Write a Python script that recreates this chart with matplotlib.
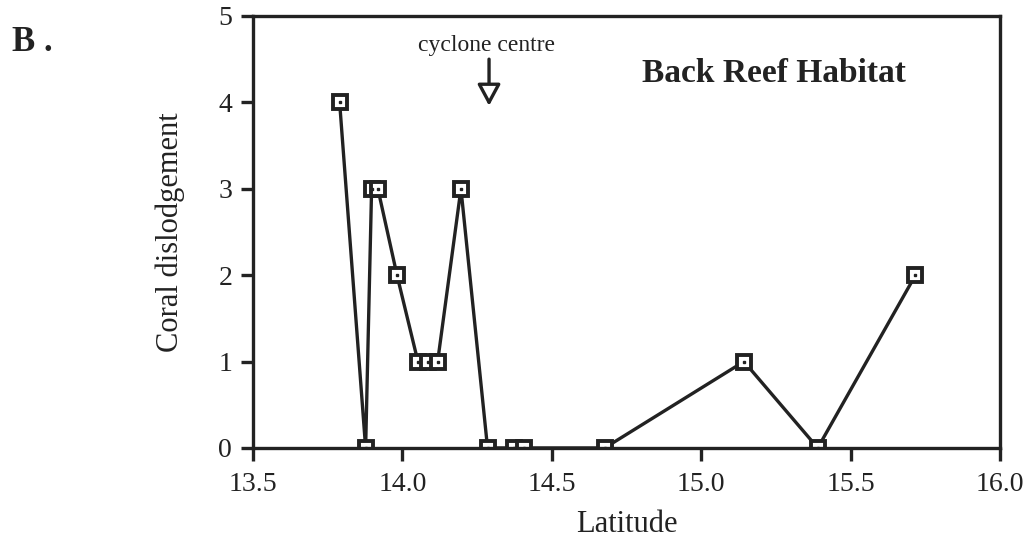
import matplotlib.pyplot as plt

plt.rcParams['font.family'] = ['Liberation Serif', 'DejaVu Serif']

# data
latitude = [13.79, 13.877, 13.897, 13.918, 13.982, 14.052, 14.085, 14.118,
            14.196, 14.285, 14.373, 14.407, 14.677, 15.143, 15.39, 15.717]
dislodgement = [4, 0, 3, 3, 2, 1, 1, 1, 3, 0, 0, 0, 0, 1, 0, 2]
xticks = [13.5, 14.0, 14.5, 15.0, 15.5, 16.0]
yticks = [0, 1, 2, 3, 4, 5]
cyclone_lat = 14.29

fig = plt.figure(figsize=(10.3, 5.41), dpi=100)
ax = fig.add_axes([0.2456, 0.172, 0.7253, 0.7985])

# markers sitting on zero get cut by the axis like in the original
ax.plot(latitude, dislodgement, color='#222', lw=2.4, marker='s', ms=10,
        mfc='white', mec='#222', mew=2.8, zorder=3)
ax.plot(latitude, dislodgement, ls='none', marker='s', ms=2, color='#222',
        zorder=4)

ax.set_xlim(13.5, 16.0)
ax.set_ylim(0, 5)
ax.set_xticks(xticks)
ax.set_xticklabels(['%.1f' % t for t in xticks])
ax.set_yticks(yticks)
for s in ax.spines.values():
    s.set_linewidth(2.4)
    s.set_color('#222')
    s.set_zorder(5)
ax.tick_params(direction='out', length=9, width=2.4, color='#222',
               labelsize=20, labelcolor='#222')
ax.tick_params(axis='x', pad=8)
ax.tick_params(axis='y', pad=6)

ax.set_xlabel('Latitude', fontsize=22, color='#222', labelpad=10)
ax.set_ylabel('Coral dislodgement', fontsize=22, color='#222', labelpad=24)

ax.annotate('', xy=(cyclone_lat, 3.96), xytext=(cyclone_lat, 4.5),
            arrowprops=dict(arrowstyle='-|>,head_length=1.3,head_width=0.7',
                            color='#222', lw=2.4, fc='white',
                            shrinkA=0, shrinkB=0))
ax.text(cyclone_lat - 0.01, 4.66, 'cyclone centre', fontsize=17,
        ha='center', va='center', color='#222')
ax.text(15.243, 4.33, 'Back Reef Habitat', fontsize=24, fontweight='bold',
        ha='center', va='center', color='#222')

fig.text(0.012, 0.905, 'B .', fontsize=25, fontweight='bold', color='#222')

fig.savefig('out.png', dpi=100)
